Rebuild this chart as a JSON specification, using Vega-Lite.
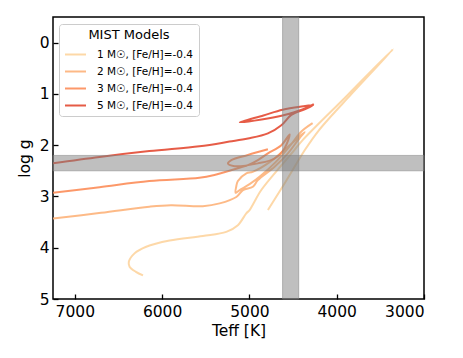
{
  "$schema": "https://vega.github.io/schema/vega-lite/v6.json",
  "width": 371,
  "height": 282,
  "autosize": {"type": "none"},
  "padding": {"left": 53, "top": 17, "right": 39, "bottom": 59},
  "background": "white",
  "config": {
    "font": "DejaVu Sans",
    "view": {"stroke": "black", "strokeWidth": 1.5},
    "axis": {
      "domain": false,
      "grid": false,
      "tickColor": "black",
      "tickWidth": 1.3,
      "tickSize": -5,
      "labelColor": "black",
      "labelFont": "DejaVu Sans",
      "labelFontSize": 15.5,
      "titleColor": "black",
      "titleFont": "DejaVu Sans",
      "titleFontSize": 15.5,
      "titleFontWeight": "normal"
    }
  },
  "layer": [
    {
      "data": {
        "values": [
          {"m": "1 M☉, [Fe/H]=-0.4", "i": 0, "T": 6219, "g": 4.54},
          {"m": "1 M☉, [Fe/H]=-0.4", "i": 1, "T": 6300, "g": 4.47},
          {"m": "1 M☉, [Fe/H]=-0.4", "i": 2, "T": 6373, "g": 4.37},
          {"m": "1 M☉, [Fe/H]=-0.4", "i": 3, "T": 6381, "g": 4.27},
          {"m": "1 M☉, [Fe/H]=-0.4", "i": 4, "T": 6316, "g": 4.11},
          {"m": "1 M☉, [Fe/H]=-0.4", "i": 5, "T": 6182, "g": 3.98},
          {"m": "1 M☉, [Fe/H]=-0.4", "i": 6, "T": 5914, "g": 3.86},
          {"m": "1 M☉, [Fe/H]=-0.4", "i": 7, "T": 5533, "g": 3.77},
          {"m": "1 M☉, [Fe/H]=-0.4", "i": 8, "T": 5265, "g": 3.69},
          {"m": "1 M☉, [Fe/H]=-0.4", "i": 9, "T": 5132, "g": 3.56},
          {"m": "1 M☉, [Fe/H]=-0.4", "i": 10, "T": 5036, "g": 3.33},
          {"m": "1 M☉, [Fe/H]=-0.4", "i": 11, "T": 4998, "g": 3.265},
          {"m": "1 M☉, [Fe/H]=-0.4", "i": 12, "T": 4864, "g": 2.875},
          {"m": "1 M☉, [Fe/H]=-0.4", "i": 13, "T": 4631, "g": 2.39},
          {"m": "1 M☉, [Fe/H]=-0.4", "i": 14, "T": 4487, "g": 2.1},
          {"m": "1 M☉, [Fe/H]=-0.4", "i": 15, "T": 4390, "g": 1.9},
          {"m": "1 M☉, [Fe/H]=-0.4", "i": 16, "T": 3874, "g": 1.02},
          {"m": "1 M☉, [Fe/H]=-0.4", "i": 17, "T": 3355, "g": 0.13},
          {"m": "1 M☉, [Fe/H]=-0.4", "i": 18, "T": 3830, "g": 1.0},
          {"m": "1 M☉, [Fe/H]=-0.4", "i": 19, "T": 4200, "g": 1.7},
          {"m": "1 M☉, [Fe/H]=-0.4", "i": 20, "T": 4367, "g": 2.1},
          {"m": "1 M☉, [Fe/H]=-0.4", "i": 21, "T": 4580, "g": 2.7},
          {"m": "1 M☉, [Fe/H]=-0.4", "i": 22, "T": 4788, "g": 3.265},

          {"m": "2 M☉, [Fe/H]=-0.4", "i": 0, "T": 7250, "g": 3.43},
          {"m": "2 M☉, [Fe/H]=-0.4", "i": 1, "T": 6700, "g": 3.32},
          {"m": "2 M☉, [Fe/H]=-0.4", "i": 2, "T": 6146, "g": 3.2},
          {"m": "2 M☉, [Fe/H]=-0.4", "i": 3, "T": 5900, "g": 3.17},
          {"m": "2 M☉, [Fe/H]=-0.4", "i": 4, "T": 5533, "g": 3.19},
          {"m": "2 M☉, [Fe/H]=-0.4", "i": 5, "T": 5341, "g": 3.135},
          {"m": "2 M☉, [Fe/H]=-0.4", "i": 6, "T": 5150, "g": 3.01},
          {"m": "2 M☉, [Fe/H]=-0.4", "i": 7, "T": 5074, "g": 2.875},
          {"m": "2 M☉, [Fe/H]=-0.4", "i": 8, "T": 4960, "g": 2.81},
          {"m": "2 M☉, [Fe/H]=-0.4", "i": 9, "T": 4903, "g": 2.68},
          {"m": "2 M☉, [Fe/H]=-0.4", "i": 10, "T": 4711, "g": 2.42},
          {"m": "2 M☉, [Fe/H]=-0.4", "i": 11, "T": 4559, "g": 2.16},
          {"m": "2 M☉, [Fe/H]=-0.4", "i": 12, "T": 4425, "g": 1.86},
          {"m": "2 M☉, [Fe/H]=-0.4", "i": 13, "T": 4367, "g": 1.745},
          {"m": "2 M☉, [Fe/H]=-0.4", "i": 14, "T": 4539, "g": 2.0},
          {"m": "2 M☉, [Fe/H]=-0.4", "i": 15, "T": 4768, "g": 2.33},
          {"m": "2 M☉, [Fe/H]=-0.4", "i": 16, "T": 4963, "g": 2.52},
          {"m": "2 M☉, [Fe/H]=-0.4", "i": 17, "T": 5035, "g": 2.55},
          {"m": "2 M☉, [Fe/H]=-0.4", "i": 18, "T": 5132, "g": 2.7},
          {"m": "2 M☉, [Fe/H]=-0.4", "i": 19, "T": 5150, "g": 2.8},
          {"m": "2 M☉, [Fe/H]=-0.4", "i": 20, "T": 5158, "g": 2.93},
          {"m": "2 M☉, [Fe/H]=-0.4", "i": 21, "T": 5112, "g": 2.875},
          {"m": "2 M☉, [Fe/H]=-0.4", "i": 22, "T": 4998, "g": 2.76},
          {"m": "2 M☉, [Fe/H]=-0.4", "i": 23, "T": 4860, "g": 2.58},
          {"m": "2 M☉, [Fe/H]=-0.4", "i": 24, "T": 4700, "g": 2.33},
          {"m": "2 M☉, [Fe/H]=-0.4", "i": 25, "T": 4539, "g": 2.02},
          {"m": "2 M☉, [Fe/H]=-0.4", "i": 26, "T": 4402, "g": 1.73},
          {"m": "2 M☉, [Fe/H]=-0.4", "i": 27, "T": 4276, "g": 1.57},

          {"m": "3 M☉, [Fe/H]=-0.4", "i": 0, "T": 7250, "g": 2.93},
          {"m": "3 M☉, [Fe/H]=-0.4", "i": 1, "T": 6717, "g": 2.82},
          {"m": "3 M☉, [Fe/H]=-0.4", "i": 2, "T": 6146, "g": 2.7},
          {"m": "3 M☉, [Fe/H]=-0.4", "i": 3, "T": 5573, "g": 2.635},
          {"m": "3 M☉, [Fe/H]=-0.4", "i": 4, "T": 5401, "g": 2.58},
          {"m": "3 M☉, [Fe/H]=-0.4", "i": 5, "T": 5172, "g": 2.47},
          {"m": "3 M☉, [Fe/H]=-0.4", "i": 6, "T": 5017, "g": 2.39},
          {"m": "3 M☉, [Fe/H]=-0.4", "i": 7, "T": 4903, "g": 2.29},
          {"m": "3 M☉, [Fe/H]=-0.4", "i": 8, "T": 4788, "g": 2.16},
          {"m": "3 M☉, [Fe/H]=-0.4", "i": 9, "T": 4634, "g": 2.0},
          {"m": "3 M☉, [Fe/H]=-0.4", "i": 10, "T": 4539, "g": 1.79},
          {"m": "3 M☉, [Fe/H]=-0.4", "i": 11, "T": 4597, "g": 2.06},
          {"m": "3 M☉, [Fe/H]=-0.4", "i": 12, "T": 4711, "g": 2.26},
          {"m": "3 M☉, [Fe/H]=-0.4", "i": 13, "T": 4903, "g": 2.355},
          {"m": "3 M☉, [Fe/H]=-0.4", "i": 14, "T": 5170, "g": 2.41},
          {"m": "3 M☉, [Fe/H]=-0.4", "i": 15, "T": 5246, "g": 2.355},
          {"m": "3 M☉, [Fe/H]=-0.4", "i": 16, "T": 5207, "g": 2.29},
          {"m": "3 M☉, [Fe/H]=-0.4", "i": 17, "T": 5017, "g": 2.19},
          {"m": "3 M☉, [Fe/H]=-0.4", "i": 18, "T": 4788, "g": 2.08},

          {"m": "5 M☉, [Fe/H]=-0.4", "i": 0, "T": 7250, "g": 2.355},
          {"m": "5 M☉, [Fe/H]=-0.4", "i": 1, "T": 6717, "g": 2.23},
          {"m": "5 M☉, [Fe/H]=-0.4", "i": 2, "T": 6146, "g": 2.115},
          {"m": "5 M☉, [Fe/H]=-0.4", "i": 3, "T": 5573, "g": 2.02},
          {"m": "5 M☉, [Fe/H]=-0.4", "i": 4, "T": 5228, "g": 1.93},
          {"m": "5 M☉, [Fe/H]=-0.4", "i": 5, "T": 5017, "g": 1.87},
          {"m": "5 M☉, [Fe/H]=-0.4", "i": 6, "T": 4788, "g": 1.77},
          {"m": "5 M☉, [Fe/H]=-0.4", "i": 7, "T": 4634, "g": 1.61},
          {"m": "5 M☉, [Fe/H]=-0.4", "i": 8, "T": 4520, "g": 1.41},
          {"m": "5 M☉, [Fe/H]=-0.4", "i": 9, "T": 4367, "g": 1.3},
          {"m": "5 M☉, [Fe/H]=-0.4", "i": 10, "T": 4270, "g": 1.22},
          {"m": "5 M☉, [Fe/H]=-0.4", "i": 11, "T": 4420, "g": 1.25},
          {"m": "5 M☉, [Fe/H]=-0.4", "i": 12, "T": 4620, "g": 1.31},
          {"m": "5 M☉, [Fe/H]=-0.4", "i": 13, "T": 4840, "g": 1.42},
          {"m": "5 M☉, [Fe/H]=-0.4", "i": 14, "T": 5110, "g": 1.555},
          {"m": "5 M☉, [Fe/H]=-0.4", "i": 15, "T": 4860, "g": 1.5},
          {"m": "5 M☉, [Fe/H]=-0.4", "i": 16, "T": 4620, "g": 1.42},
          {"m": "5 M☉, [Fe/H]=-0.4", "i": 17, "T": 4400, "g": 1.31},
          {"m": "5 M☉, [Fe/H]=-0.4", "i": 18, "T": 4262, "g": 1.2}
        ]
      },
      "mark": {"type": "line", "strokeWidth": 2, "opacity": 0.9, "clip": true, "interpolate": "catmull-rom"},
      "encoding": {
        "x": {
          "field": "T", "type": "quantitative",
          "scale": {"domain": [3000, 7250], "reverse": true, "nice": false, "zero": false},
          "axis": {"values": [3000, 4000, 5000, 6000, 7000], "format": "d", "title": "Teff [K]", "labelPadding": 10, "titlePadding": 4}
        },
        "y": {
          "field": "g", "type": "quantitative",
          "scale": {"domain": [-0.5, 5], "reverse": true, "nice": false, "zero": false},
          "axis": {"values": [0, 1, 2, 3, 4, 5], "format": "d", "title": "log g", "labelPadding": 9, "titlePadding": 7}
        },
        "order": {"field": "i", "type": "quantitative"},
        "color": {
          "field": "m", "type": "nominal",
          "scale": {
            "domain": ["1 M☉, [Fe/H]=-0.4", "2 M☉, [Fe/H]=-0.4", "3 M☉, [Fe/H]=-0.4", "5 M☉, [Fe/H]=-0.4"],
            "range": ["#fdd49e", "#fdb27a", "#fc8d59", "#e34a33"]
          },
          "legend": {
            "title": "MIST Models",
            "orient": "none",
            "legendX": 6,
            "legendY": 7,
            "titleAnchor": "middle",
            "titleFontSize": 13,
            "titleFontWeight": "normal",
            "titleColor": "black",
            "titleFont": "DejaVu Sans",
            "labelFont": "DejaVu Sans",
            "labelFontSize": 10.5,
            "labelColor": "black",
            "symbolType": "stroke",
            "symbolSize": 441,
            "symbolStrokeWidth": 2,
            "fillColor": "white",
            "strokeColor": "#cccccc",
            "cornerRadius": 3,
            "padding": 5,
            "rowPadding": 0,
            "labelOffset": 10,
            "titlePadding": 1
          }
        }
      }
    },
    {
      "data": {"values": [{"T1": 4435, "T2": 4620}]},
      "mark": {"type": "rect", "fill": "#808080", "fillOpacity": 0.5, "stroke": "#808080", "strokeOpacity": 0.5, "strokeWidth": 1},
      "encoding": {
        "x": {"field": "T1", "type": "quantitative"},
        "x2": {"field": "T2"}
      }
    },
    {
      "data": {"values": [{"g1": 2.2, "g2": 2.5}]},
      "mark": {"type": "rect", "fill": "#808080", "fillOpacity": 0.5, "stroke": "#808080", "strokeOpacity": 0.5, "strokeWidth": 1},
      "encoding": {
        "y": {"field": "g1", "type": "quantitative"},
        "y2": {"field": "g2"}
      }
    }
  ]
}
